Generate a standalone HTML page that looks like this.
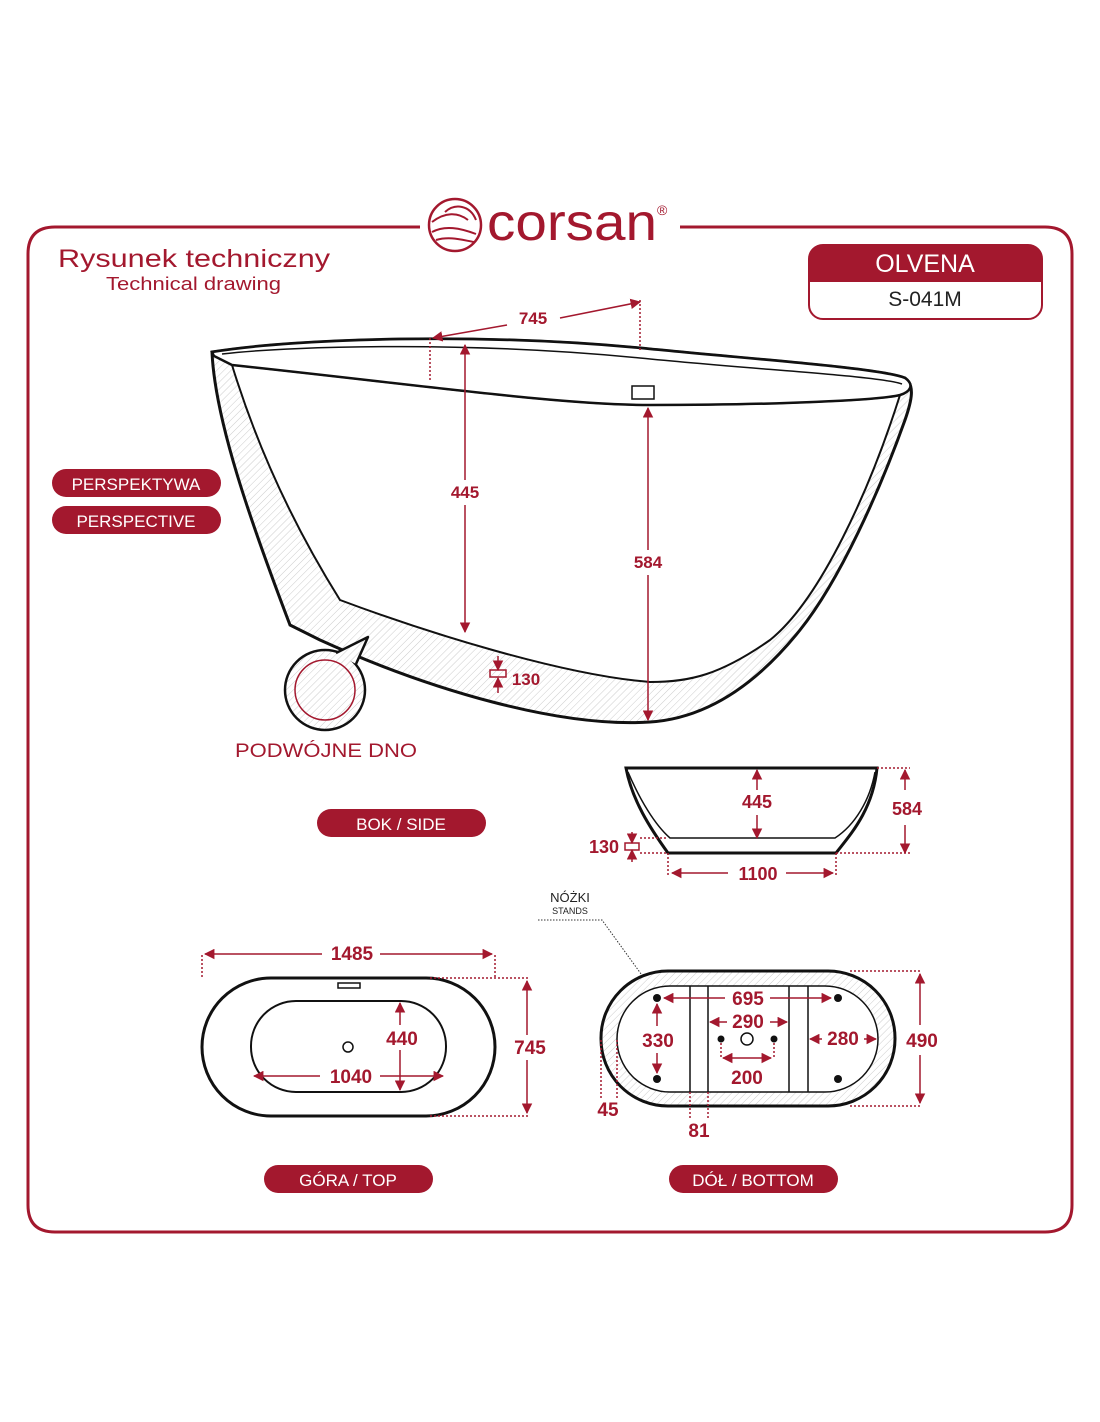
<!DOCTYPE html>
<html><head><meta charset="utf-8"><style>
html,body{margin:0;padding:0;background:#fff;}
svg{display:block;}
text{font-family:"Liberation Sans",sans-serif;}
</style></head><body>
<svg width="1100" height="1422" viewBox="0 0 1100 1422" xmlns="http://www.w3.org/2000/svg">
<defs>
<pattern id="h" width="5" height="5" patternUnits="userSpaceOnUse" patternTransform="rotate(45)">
<rect width="5" height="5" fill="#fff"/><line x1="0" y1="0" x2="0" y2="5" stroke="#ccc" stroke-width="1"/></pattern>
<marker id="a" viewBox="0 0 10 10" refX="9" refY="5" markerWidth="7" markerHeight="7" orient="auto-start-reverse"><path d="M0,0 L10,5 L0,10 z" fill="#a3182e"/></marker>
</defs>
<g fill="none" stroke="#a3182e" stroke-width="3">
<path d="M420,227 H55 Q28,227 28,254 V1205 Q28,1232 55,1232 H1045 Q1072,1232 1072,1205 V254 Q1072,227 1045,227 H680"/>
</g>
<!-- logo -->
<circle cx="455" cy="225" r="26" fill="none" stroke="#a3182e" stroke-width="2.5"/>
<path d="M432,222 C445,212 458,212 468,220 M432,232 C445,225 460,228 476,234 M436,240 C450,236 462,240 474,242 M445,212 C455,203 470,205 476,220" fill="none" stroke="#a3182e" stroke-width="2"/>
<text x="487" y="240" font-size="52" fill="#a3182e" textLength="170" lengthAdjust="spacingAndGlyphs">corsan</text>
<text x="657" y="215" font-size="14" fill="#a3182e">®</text>
<text x="58" y="267" font-size="25" fill="#a3182e" textLength="272" lengthAdjust="spacingAndGlyphs">Rysunek techniczny</text>
<text x="106" y="290" font-size="18" fill="#a3182e" textLength="175" lengthAdjust="spacingAndGlyphs">Technical drawing</text>
<!-- OLVENA box -->
<rect x="809" y="245" width="233" height="74" rx="14" fill="#fff" stroke="#a3182e" stroke-width="2"/>
<path d="M809,282 V259 Q809,245 823,245 H1028 Q1042,245 1042,259 V282 Z" fill="#a3182e"/>
<text x="925" y="272" font-size="25" fill="#fff" text-anchor="middle">OLVENA</text>
<text x="925" y="306" font-size="21" fill="#222" text-anchor="middle">S-041M</text>
<!-- pills -->
<g font-size="17" fill="#fff" text-anchor="middle">
<rect x="52" y="469" width="169" height="28" rx="14" fill="#a3182e"/><text x="136" y="490">PERSPEKTYWA</text>
<rect x="52" y="506" width="169" height="28" rx="14" fill="#a3182e"/><text x="136" y="527">PERSPECTIVE</text>
<rect x="317" y="809" width="169" height="28" rx="14" fill="#a3182e"/><text x="401" y="830">BOK / SIDE</text>
<rect x="264" y="1165" width="169" height="28" rx="14" fill="#a3182e"/><text x="348" y="1186">GÓRA / TOP</text>
<rect x="669" y="1165" width="169" height="28" rx="14" fill="#a3182e"/><text x="753" y="1186">DÓŁ / BOTTOM</text>
</g>
<!-- perspective tub -->
<path d="M212,352 C300,338 480,333 640,348 C760,360 880,368 905,378 C915,385 912,400 905,420 C880,490 840,580 800,630 C760,680 710,718 650,722 C560,728 430,690 320,640 L290,625 C250,520 215,420 212,352 Z" fill="url(#h)" stroke="#111" stroke-width="3"/>
<path d="M232,365 C420,385 560,405 650,405 C780,405 880,400 900,395 C870,490 820,600 770,640 C720,675 690,682 650,682 C560,675 420,630 340,600 C290,520 255,440 232,365 Z" fill="#fff" stroke="#111" stroke-width="2"/>
<path d="M212,352 C300,338 480,333 640,348 C760,360 880,368 905,378 C915,385 910,392 900,395 C880,400 780,405 650,405 C560,405 420,385 232,365 L214,356 Z" fill="#fff" stroke="#111" stroke-width="2.5"/>
<path d="M222,354 C300,345 480,342 640,358 C760,370 880,376 902,384" fill="none" stroke="#111" stroke-width="1.5"/>
<rect x="632" y="386" width="22" height="13" fill="#fff" stroke="#111" stroke-width="1.5"/>
<circle cx="325" cy="690" r="40" fill="url(#h)" stroke="#111" stroke-width="2.5"/>
<path d="M336,653 L368,637 L356,664" fill="url(#h)" stroke="#111" stroke-width="2.5" stroke-linejoin="round"/>
<circle cx="325" cy="690" r="30" fill="none" stroke="#a3182e" stroke-width="1.5"/>
<g stroke="#a3182e" stroke-width="1.5" fill="none">
<line x1="507" y1="325" x2="433" y2="338" marker-end="url(#a)"/>
<line x1="560" y1="318" x2="640" y2="302" marker-end="url(#a)"/>
<line x1="430" y1="338" x2="430" y2="382" stroke-dasharray="2,2"/>
<line x1="640" y1="300" x2="640" y2="350" stroke-dasharray="2,2"/>
<line x1="465" y1="480" x2="465" y2="345" marker-end="url(#a)"/>
<line x1="465" y1="505" x2="465" y2="632" marker-end="url(#a)"/>
<line x1="648" y1="550" x2="648" y2="408" marker-end="url(#a)"/>
<line x1="648" y1="575" x2="648" y2="720" marker-end="url(#a)"/>
<line x1="498" y1="656" x2="498" y2="670" marker-end="url(#a)"/>
<line x1="498" y1="693" x2="498" y2="678" marker-end="url(#a)"/>
<rect x="490" y="670" width="16" height="7"/>
</g>
<g fill="#a3182e" font-weight="bold" font-size="17" text-anchor="middle">
<text x="533" y="324">745</text>
<text x="465" y="498">445</text>
<text x="648" y="568">584</text>
<text x="526" y="685">130</text>
</g>
<text x="326" y="757" font-size="19" fill="#a3182e" text-anchor="middle" textLength="182" lengthAdjust="spacingAndGlyphs">PODWÓJNE DNO</text>
<!-- side view -->
<path d="M626,768 H877 C873,810 850,835 836,853 H668 C650,828 632,800 626,768 Z" fill="#fff" stroke="#111" stroke-width="3"/>
<path d="M628,772 C640,800 655,825 670,838 H835 C855,825 870,800 875,772" fill="none" stroke="#111" stroke-width="1.5"/>
<g stroke="#a3182e" stroke-width="1.5" fill="none">
<line x1="757" y1="790" x2="757" y2="770" marker-end="url(#a)"/>
<line x1="757" y1="815" x2="757" y2="838" marker-end="url(#a)"/>
<line x1="905" y1="790" x2="905" y2="770" marker-end="url(#a)"/>
<line x1="905" y1="825" x2="905" y2="853" marker-end="url(#a)"/>
<line x1="877" y1="768" x2="910" y2="768" stroke-dasharray="2,2"/>
<line x1="836" y1="853" x2="910" y2="853" stroke-dasharray="2,2"/>
<line x1="640" y1="838" x2="668" y2="838" stroke-dasharray="2,2"/>
<line x1="640" y1="853" x2="668" y2="853" stroke-dasharray="2,2"/>
<line x1="632" y1="832" x2="632" y2="843" marker-end="url(#a)"/>
<line x1="632" y1="862" x2="632" y2="850" marker-end="url(#a)"/>
<rect x="625" y="843" width="14" height="7"/>
<line x1="668" y1="853" x2="668" y2="875" stroke-dasharray="2,2"/>
<line x1="836" y1="853" x2="836" y2="875" stroke-dasharray="2,2"/>
<line x1="728" y1="873" x2="672" y2="873" marker-end="url(#a)"/>
<line x1="786" y1="873" x2="833" y2="873" marker-end="url(#a)"/>
</g>
<g fill="#a3182e" font-weight="bold" font-size="18" text-anchor="middle">
<text x="757" y="808">445</text>
<text x="907" y="815">584</text>
<text x="604" y="853">130</text>
<text x="758" y="880">1100</text>
</g>
<!-- top view -->
<rect x="202" y="978" width="293" height="138" rx="69" fill="#fff" stroke="#111" stroke-width="3"/>
<rect x="251" y="1001" width="195" height="91" rx="45" fill="#fff" stroke="#111" stroke-width="2"/>
<rect x="338" y="983" width="22" height="5" fill="#fff" stroke="#111" stroke-width="1.5"/>
<circle cx="348" cy="1047" r="5" fill="#fff" stroke="#111" stroke-width="1.5"/>
<g stroke="#a3182e" stroke-width="1.5" fill="none">
<line x1="202" y1="955" x2="202" y2="978" stroke-dasharray="2,2"/>
<line x1="495" y1="955" x2="495" y2="978" stroke-dasharray="2,2"/>
<line x1="322" y1="954" x2="205" y2="954" marker-end="url(#a)"/>
<line x1="380" y1="954" x2="492" y2="954" marker-end="url(#a)"/>
<line x1="430" y1="978" x2="530" y2="978" stroke-dasharray="2,2"/>
<line x1="430" y1="1116" x2="530" y2="1116" stroke-dasharray="2,2"/>
<line x1="527" y1="1035" x2="527" y2="981" marker-end="url(#a)"/>
<line x1="527" y1="1060" x2="527" y2="1113" marker-end="url(#a)"/>
<line x1="400" y1="1025" x2="400" y2="1003" marker-end="url(#a)"/>
<line x1="400" y1="1050" x2="400" y2="1090" marker-end="url(#a)"/>
<line x1="320" y1="1076" x2="254" y2="1076" marker-end="url(#a)"/>
<line x1="380" y1="1076" x2="443" y2="1076" marker-end="url(#a)"/>
</g>
<g fill="#a3182e" font-weight="bold" font-size="19" text-anchor="middle">
<text x="352" y="960">1485</text>
<text x="530" y="1054">745</text>
<text x="402" y="1045">440</text>
<text x="351" y="1083">1040</text>
</g>
<!-- bottom view -->
<text x="570" y="902" font-size="13" fill="#222" text-anchor="middle">NÓŻKI</text>
<text x="570" y="914" font-size="9" fill="#222" text-anchor="middle">STANDS</text>
<path d="M538,920 H602 L657,996" fill="none" stroke="#333" stroke-width="1" stroke-dasharray="1.5,1.5"/>
<rect x="601" y="971" width="294" height="135" rx="67" fill="url(#h)" stroke="#111" stroke-width="3"/>
<rect x="617" y="986" width="261" height="106" rx="53" fill="#fff" stroke="#111" stroke-width="1.5"/>
<g stroke="#111" stroke-width="1.5"><line x1="690" y1="986" x2="690" y2="1092"/><line x1="708" y1="986" x2="708" y2="1092"/><line x1="789" y1="986" x2="789" y2="1092"/><line x1="808" y1="986" x2="808" y2="1092"/></g>
<g fill="#111"><circle cx="657" cy="998" r="4"/><circle cx="838" cy="998" r="4"/><circle cx="657" cy="1079" r="4"/><circle cx="838" cy="1079" r="4"/><circle cx="721" cy="1039" r="3.5"/><circle cx="774" cy="1039" r="3.5"/></g>
<circle cx="747" cy="1039" r="6" fill="#fff" stroke="#111" stroke-width="1.5"/>
<g stroke="#a3182e" stroke-width="1.5" fill="none">
<line x1="725" y1="998" x2="664" y2="998" marker-end="url(#a)"/>
<line x1="770" y1="998" x2="831" y2="998" marker-end="url(#a)"/>
<line x1="727" y1="1022" x2="710" y2="1022" marker-end="url(#a)"/>
<line x1="770" y1="1022" x2="787" y2="1022" marker-end="url(#a)"/>
<line x1="657" y1="1026" x2="657" y2="1004" marker-end="url(#a)"/>
<line x1="657" y1="1053" x2="657" y2="1073" marker-end="url(#a)"/>
<line x1="723" y1="1058" x2="771" y2="1058" marker-end="url(#a)" marker-start="url(#a)"/>
<line x1="721" y1="1043" x2="721" y2="1058" stroke-dasharray="2,2"/>
<line x1="774" y1="1043" x2="774" y2="1058" stroke-dasharray="2,2"/>
<line x1="822" y1="1039" x2="810" y2="1039" marker-end="url(#a)"/>
<line x1="864" y1="1039" x2="876" y2="1039" marker-end="url(#a)"/>
<line x1="850" y1="971" x2="922" y2="971" stroke-dasharray="2,2"/>
<line x1="850" y1="1106" x2="922" y2="1106" stroke-dasharray="2,2"/>
<line x1="920" y1="1025" x2="920" y2="974" marker-end="url(#a)"/>
<line x1="920" y1="1055" x2="920" y2="1103" marker-end="url(#a)"/>
<line x1="601" y1="1040" x2="601" y2="1100" stroke-dasharray="2,2"/>
<line x1="617" y1="1040" x2="617" y2="1100" stroke-dasharray="2,2"/>
<line x1="690" y1="1092" x2="690" y2="1118" stroke-dasharray="2,2"/>
<line x1="708" y1="1092" x2="708" y2="1118" stroke-dasharray="2,2"/>
</g>
<g fill="#a3182e" font-weight="bold" font-size="19" text-anchor="middle">
<text x="748" y="1005">695</text>
<text x="748" y="1028">290</text>
<text x="658" y="1047">330</text>
<text x="843" y="1045">280</text>
<text x="747" y="1084">200</text>
<text x="922" y="1047">490</text>
<text x="608" y="1116">45</text>
<text x="699" y="1137">81</text>
</g>
</svg>
</body></html>
